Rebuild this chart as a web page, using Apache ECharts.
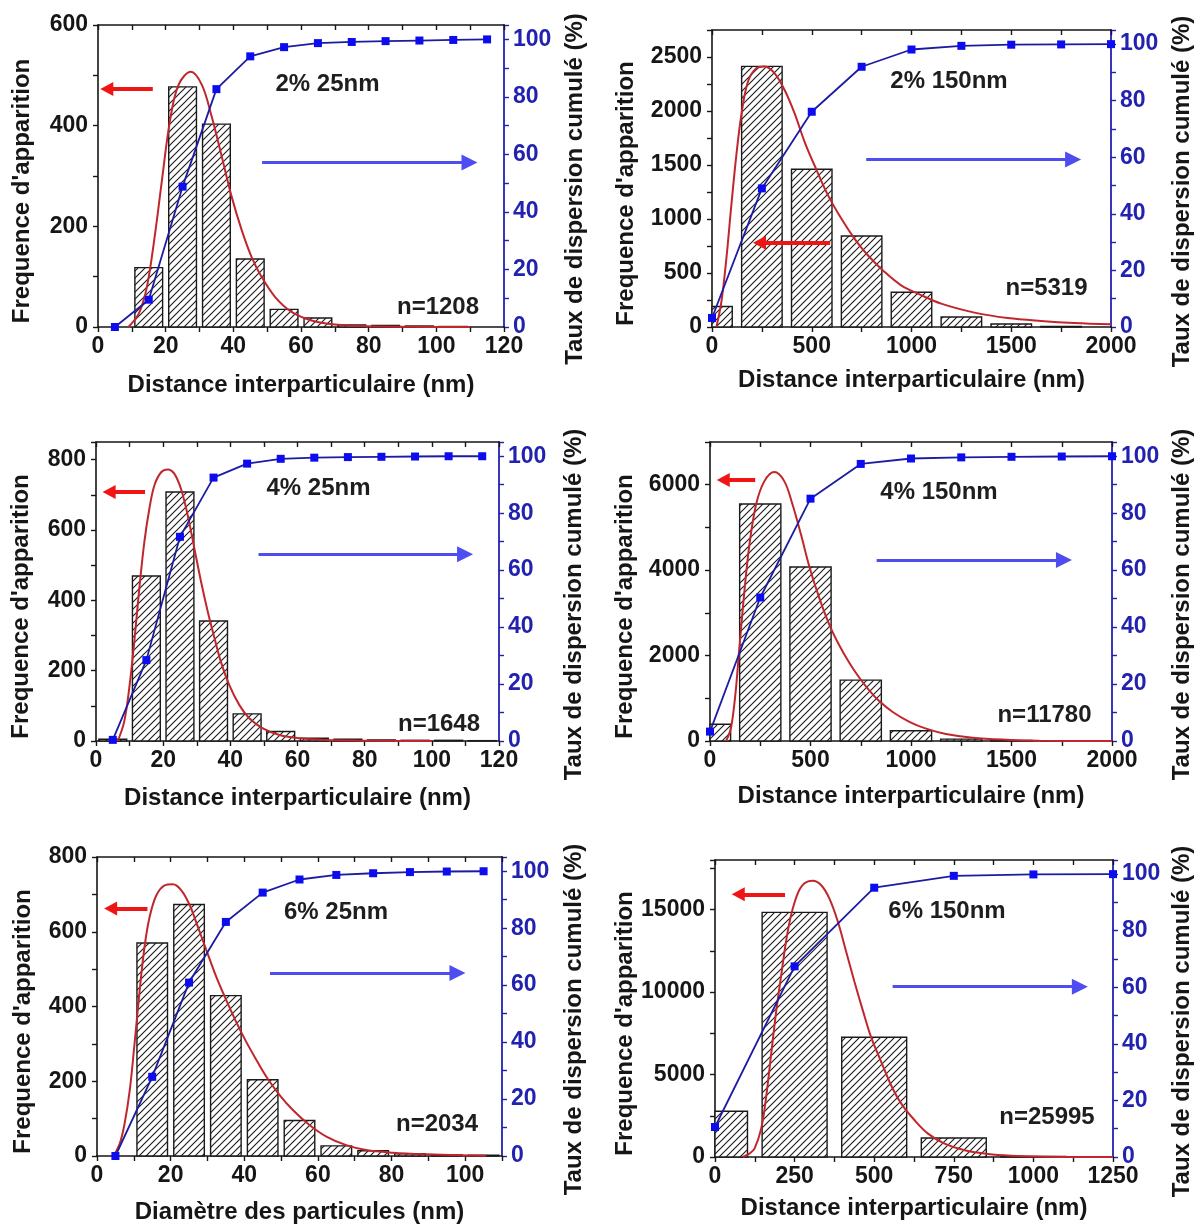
<!DOCTYPE html>
<html><head><meta charset="utf-8">
<script src="https://cdn.jsdelivr.net/npm/echarts@6/dist/echarts.min.js"></script>
<style>html,body{margin:0;padding:0;background:#fff}#c{width:1201px;height:1228px}</style>
</head><body><div id="c"></div>
<script>
// ---------- data ----------
const p1BarX = [15,25,35,45,55,65,75,85,95,105];
const p1Count = [118,477,403,135,35,18,4,3,2,1];
const p1CumX = [5,15,25,35,45,55,65,75,85,95,105,115];
const p1Cum = [0,9.5,48.8,82.7,94.1,97.3,98.7,99.1,99.4,99.6,99.8,100];
const p1FitX = [9,12,14,15.4,17.4,18.9,21.3,23.8,27.4,30.7,33.6,36.6,39.5,42.5,45.4,48.4,52.3,57.2,63.1,70,79.8,97.5,110];
const p1FitY = [0,26,66,116,212,292,411,481,507,481,418,338,259,192,139,99,60,30,13,5,1.3,0.2,0];

const p2BarX = [0,250,500,750,1000,1250,1500,1750];
const p2Count = [190,2413,1460,843,322,92,28,5];
const p2CumX = [0,250,500,750,1000,1250,1500,1750,2000];
const p2Cum = [3.2,49,76.1,92,98.1,99.4,99.8,99.9,100];
const p2FitX = [22,47,72,97,122,147,180,222,264,314,364,414,464,522,581,648,714,781,865,948,1032,1149,1316,1482,1649,1816,2000];
const p2FitY = [0,232,633,1128,1591,1962,2271,2395,2413,2349,2194,1978,1715,1462,1221,1004,819,664,510,386,309,216,133,83,56,37,25];

const p3BarX = [5,15,25,35,45,55,65,75,85,95,105,115];
const p3Count = [5,469,708,341,77,27,8,5,3,2,2,1];
const p3CumX = [5,15,25,35,45,55,65,75,85,95,105,115];
const p3Cum = [0.4,28.4,71.7,92.5,97.4,99.1,99.5,99.7,99.8,99.9,100,100];
const p3FitX = [6.5,8.4,9.9,11.4,12.9,14.4,15.9,17.4,19.4,21.4,23.3,25.3,27.3,29.3,31.3,33.3,35.3,37.2,39.7,42.7,45.7,49.7,54.6,60.6,68.5,78.5,90,100];
const p3FitY = [0,55,150,282,434,566,661,727,764,772,760,717,642,547,452,367,292,225,159,102,64,36,17,7.6,2.8,1,0.3,0];

const p4BarX = [0,250,500,750,1000,1250,1500,1750];
const p4Count = [391,5550,4075,1425,240,45,12,4];
const p4CumX = [0,250,500,750,1000,1250,1500,1750,2000];
const p4Cum = [3.3,50.4,85.1,97.3,99.2,99.6,99.8,99.9,100];
const p4FitX = [80,104,126,146,171,196,229,270,320,370,411,453,494,544,594,643,693,743,793,843,909,992,1075,1174,1307,1473,1638,2000];
const p4FitY = [0,297,1078,2172,3500,4594,5531,6078,6297,6078,5531,4828,4086,3344,2719,2240,1830,1480,1180,930,680,450,290,165,78,31,8,0];

const p5BarX = [15,25,35,45,55,65,75,85,95,105];
const p5Count = [570,673,429,204,95,27,14,6,3,2];
const p5CumX = [5,15,25,35,45,55,65,75,85,95,105];
const p5Cum = [0,27.8,60.9,82.2,92.5,97.1,98.7,99.3,99.7,99.9,100];
const p5FitX = [4.5,6.2,7.5,8.9,10.2,11.6,12.9,14.3,16.1,18.4,20.6,22.9,25.2,27.4,29.7,32.4,35.1,37.8,40.5,43.3,46,49.6,53.2,57.7,62.3,67.7,73.1,80.4,89.4,98.5,105.7];
const p5FitY = [0,34,87,176,301,444,559,640,697,724,727,711,671,613,551,479,417,359,306,257,212,163,123,83,52,29,16,9,4.5,1.8,0.9];

const p6BarX = [0,250,500,750,1000];
const p6Count = [2770,14826,7261,1153,40];
const p6CumX = [0,250,500,750,1000,1250];
const p6Cum = [10.6,67.4,95.2,99.4,99.9,100];
const p6FitX = [87,108,124,145,160,176,192,208,223,239,260,281,307,333,359,386,412,438,464,490,522,553,585,627,669,721,784,857,930,1035,1140,1250];
const p6FitY = [0,202,506,1719,3540,6169,8798,11023,13046,14664,15979,16586,16748,16485,15676,14260,12440,10619,8900,7282,5765,4349,3236,2225,1416,809,405,182,81,20,0,0];

// arrows: [xFrom, xTo, y] in data units (red: left axis, blue: right axis)
const redArrows = [[16.2,2.6,473],[592,238,779],[14.6,3.9,708],[225,66,6110],[13.7,3.7,662],[220,73,15919]];
const blueArrows = [[48.5,109.8,57.2],[773,1810,59.2],[48.4,109.9,65.6],[829,1761,63.6],[47,97.9,64.3],[558,1146,60.2]];

const sampleNames = ['2% 25nm','2% 150nm','4% 25nm','4% 150nm','6% 25nm','6% 150nm'];
const countNames = ['n=1208','n=5319','n=1648','n=11780','n=2034','n=25995'];
const xTitles = ['Distance interparticulaire (nm)','Distance interparticulaire (nm)','Distance interparticulaire (nm)','Distance interparticulaire (nm)','Diamètre des particules (nm)','Distance interparticulaire (nm)'];
const leftTitle = "Frequence d'apparition";
const rightTitle = 'Taux de dispersion cumulé (%)';

// ---------- layout ----------
const layout = [
 {grid:{left:98,top:25,width:406,height:302}, xMax:120, xStep:10, xMajor:20, yMax:600, yStep:100, yMajor:200, barSpan:8.2, gapX:46, gapL:64, gapR:59, title:[327.5,84], n:[438,307.5]},
 {grid:{left:712,top:30,width:399,height:297}, xMax:2000, xStep:250, xMajor:500, yMax:2750, yStep:250, yMajor:500, barSpan:203, gapX:41, gapL:74, gapR:59, title:[949,81], n:[1046.5,288]},
 {grid:{left:96,top:442,width:403,height:299}, xMax:120, xStep:10, xMajor:20, yMax:850, yStep:100, yMajor:200, barSpan:8.3, gapX:45, gapL:63, gapR:63, title:[318.5,488.5], n:[439,724.5]},
 {grid:{left:710,top:442,width:402,height:299}, xMax:2000, xStep:250, xMajor:500, yMax:7000, yStep:1000, yMajor:2000, barSpan:205, gapX:43, gapL:73, gapR:58, title:[939,492], n:[1044.5,715]},
 {grid:{left:97,top:857,width:405,height:299}, xMax:110, xStep:10, xMajor:20, yMax:800, yStep:100, yMajor:200, barSpan:8.3, gapX:44, gapL:62, gapR:60, title:[336,912], n:[437,1124.5]},
 {grid:{left:715,top:860,width:398,height:297}, xMax:1250, xStep:125, xMajor:250, yMax:18000, yStep:2500, yMajor:5000, barSpan:204, gapX:39, gapL:78, gapR:57, title:[947,911], n:[1047,1117]}
];
const panelData = [
 [p1BarX,p1Count,p1CumX,p1Cum,p1FitX,p1FitY],
 [p2BarX,p2Count,p2CumX,p2Cum,p2FitX,p2FitY],
 [p3BarX,p3Count,p3CumX,p3Cum,p3FitX,p3FitY],
 [p4BarX,p4Count,p4CumX,p4Cum,p4FitX,p4FitY],
 [p5BarX,p5Count,p5CumX,p5Cum,p5FitX,p5FitY],
 [p6BarX,p6Count,p6CumX,p6Cum,p6FitX,p6FitY]
];

const FF = '"Liberation Sans", Arial, Helvetica, sans-serif';
const BLACK = '#161616';
const AXBLUE = '#2222b0';

function hatch(){
  const s = 7, c = document.createElement('canvas');
  c.width = s; c.height = s;
  const g = c.getContext('2d');
  g.fillStyle = '#ffffff'; g.fillRect(0,0,s,s);
  g.strokeStyle = '#1e1e1e'; g.lineWidth = 1.15;
  g.beginPath();
  g.moveTo(-1, s+1); g.lineTo(s+1, -1);
  g.moveTo(-1, 1); g.lineTo(1, -1);
  g.moveTo(s-1, s+1); g.lineTo(s+1, s-1);
  g.stroke();
  return c;
}
const pattern = {image: hatch(), repeat: 'repeat'};
const zip = (a,b) => a.map((v,i) => [v, b[i]]);
const fmt = major => (v => (Math.abs(v % major) < 1e-9 ? String(v) : ''));

function barRenderer(span){
  return function(params, api){
    const x = api.value(0), y = api.value(1);
    const p0 = api.coord([x - span/2, y]);
    const p1 = api.coord([x + span/2, 0]);
    const cs = params.coordSys;
    const rect = echarts.graphic.clipRectByRect(
      {x: p0[0], y: p0[1], width: p1[0] - p0[0], height: p1[1] - p0[1]},
      {x: cs.x, y: cs.y, width: cs.width, height: cs.height});
    if (!rect) return null;
    return {type: 'rect', shape: rect,
      style: {fill: pattern, stroke: '#1a1a1a', lineWidth: 1.4}};
  };
}

const grids = [], xAxes = [], yAxes = [], series = [], graphics = [];
layout.forEach((L, i) => {
  const [bx, bc, cx, cv, fx, fy] = panelData[i];
  grids.push(Object.assign({containLabel:false}, L.grid));
  const labelStyle = {color: BLACK, fontSize: 23, fontWeight: 'bold', fontFamily: FF};
  const nameStyle = {color: BLACK, fontSize: 24, fontWeight: 'bold', fontFamily: FF};
  xAxes.push({
    gridIndex: i, type: 'value', position: 'bottom', min: 0, max: L.xMax, interval: L.xStep,
    axisLine: {onZero:false, lineStyle: {color: BLACK, width: 1.6}},
    axisTick: {inside: false, length: 5, lineStyle: {color: BLACK, width: 1.4}},
    axisLabel: Object.assign({formatter: fmt(L.xMajor), margin: 8}, labelStyle),
    splitLine: {show: false},
    name: xTitles[i], nameLocation: 'middle', nameGap: L.gapX, nameTextStyle: nameStyle
  });
  xAxes.push({
    gridIndex: i, type: 'value', position: 'top', min: 0, max: L.xMax, interval: L.xStep,
    axisLine: {onZero:false, lineStyle: {color: BLACK, width: 1.6}},
    axisTick: {inside: true, length: 5, lineStyle: {color: BLACK, width: 1.4}},
    axisLabel: {show: false}, splitLine: {show: false}
  });
  yAxes.push({
    gridIndex: i, type: 'value', position: 'left', min: 0, max: L.yMax, interval: L.yStep,
    axisLine: {show: true, onZero:false, lineStyle: {color: BLACK, width: 1.6}},
    axisTick: {show: true, inside: false, length: 5, lineStyle: {color: BLACK, width: 1.4}},
    axisLabel: Object.assign({formatter: fmt(L.yMajor), margin: 10}, labelStyle),
    splitLine: {show: false},
    name: leftTitle, nameLocation: 'middle', nameRotate: 90, nameGap: L.gapL,
    nameTextStyle: Object.assign({padding: [0, 30, 0, 0]}, nameStyle)
  });
  yAxes.push({
    gridIndex: i, type: 'value', position: 'right', min: 0, max: 105, interval: 10,
    axisLine: {show: true, onZero:false, lineStyle: {color: AXBLUE, width: 1.8}},
    axisTick: {show: true, inside: false, length: 5, lineStyle: {color: AXBLUE, width: 1.4}},
    axisLabel: Object.assign({}, labelStyle, {color: AXBLUE, formatter: fmt(20), margin: 9}),
    splitLine: {show: false},
    name: rightTitle, nameLocation: 'middle', nameRotate: 90, nameGap: L.gapR,
    nameTextStyle: Object.assign({padding: [0, 26, 0, 0]}, nameStyle)
  });
  const ra = redArrows[i], ba = blueArrows[i];
  series.push({
    type: 'custom', xAxisIndex: 2*i, yAxisIndex: 2*i, data: zip(bx, bc),
    renderItem: barRenderer(L.barSpan), z: 1, silent: true
  });
  series.push({
    type: 'line', xAxisIndex: 2*i, yAxisIndex: 2*i, data: zip(fx, fy),
    smooth: 0.35, showSymbol: false, z: 3,
    lineStyle: {color: '#c0272d', width: 2},
    markLine: {
      silent: true, symbol: ['none', 'triangle'], symbolSize: [14, 13],
      label: {show: false}, emphasis: {disabled: true},
      lineStyle: {color: '#f01515', width: 4, type: 'solid'},
      data: [[{coord: [ra[0], ra[2]]}, {coord: [ra[1], ra[2]]}]]
    }
  });
  series.push({
    type: 'line', xAxisIndex: 2*i, yAxisIndex: 2*i+1, data: zip(cx, cv),
    symbol: 'rect', symbolSize: 8, showAllSymbol: true, z: 4,
    itemStyle: {color: '#0c0cee'}, lineStyle: {color: '#1c1ca3', width: 1.8},
    markLine: {
      silent: true, symbol: ['none', 'triangle'], symbolSize: [16, 16],
      label: {show: false}, emphasis: {disabled: true},
      lineStyle: {color: '#4e4ef0', width: 3, type: 'solid'},
      data: [[{coord: [ba[0], ba[2]]}, {coord: [ba[1], ba[2]]}]]
    }
  });
  [[sampleNames[i], L.title], [countNames[i], L.n]].forEach(([t, p]) => {
    graphics.push({
      type: 'text', x: p[0], y: p[1], z: 10,
      style: {text: t, fill: '#1e1e1e', fontSize: 24, fontWeight: 'bold', fontFamily: FF,
        textAlign: 'center', align: 'center', textVerticalAlign: 'middle', verticalAlign: 'middle'}
    });
  });
});

const chart = echarts.init(document.getElementById('c'), null, {renderer: 'canvas'});
chart.setOption({
  animation: false,
  backgroundColor: '#ffffff',
  grid: grids, xAxis: xAxes, yAxis: yAxes, series: series, graphic: graphics
});
</script>
</body></html>
